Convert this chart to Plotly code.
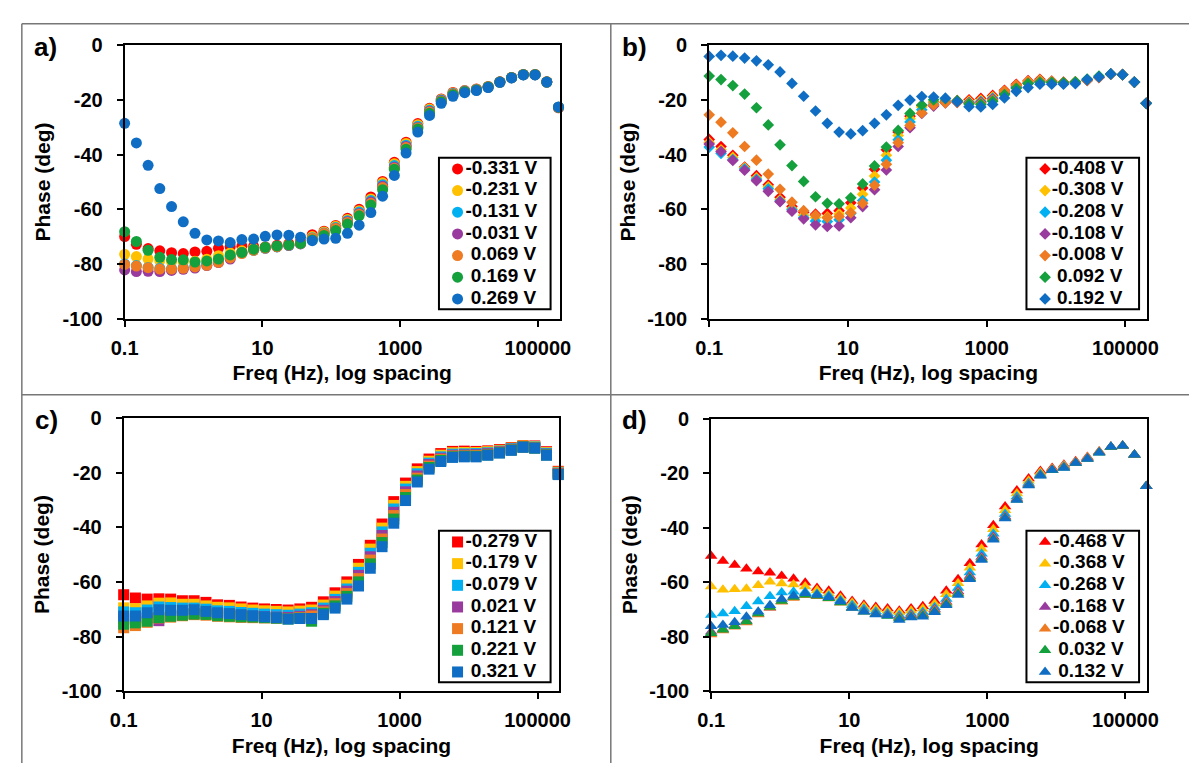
import plotly.graph_objects as go

# ---------------- data ----------------
FREQ_HZ = [0.1, 0.148, 0.219, 0.324, 0.480, 0.710, 1.05, 1.56, 2.30, 3.41,
           5.04, 7.46, 11.0, 16.3, 24.2, 35.8, 53.0, 78.5, 116, 172,
           254, 376, 557, 824, 1220, 1805, 2672, 3955, 5853, 8663,
           12822, 18978, 28088, 41572, 61530, 91069, 134790, 199500]

X_TICK_VALUES = [0.1, 10, 1000, 100000]
X_TICK_LABELS = ["0.1", "10", "1000", "100000"]
Y_TICK_VALUES = [0, -20, -40, -60, -80, -100]
Y_TICK_LABELS = ["0", "-20", "-40", "-60", "-80", "-100"]

# panel a (circles)
A_LABELS = ["-0.331 V", "-0.231 V", "-0.131 V", "-0.031 V", "\u00a00.069 V", "\u00a00.169 V", "\u00a00.269 V"]
A_M0331 = [-70.0, -72.8, -74.4, -75.2, -75.9, -76.2, -75.6, -75.4, -74.3, -73.7,
           -73.5, -73.6, -73.8, -73.2, -72.6, -71.8, -69.3, -68.0, -65.9, -63.3,
           -60.0, -55.5, -49.8, -42.8, -35.4, -28.6, -23.0, -19.6, -17.2, -16.5,
           -15.9, -15.0, -13.3, -11.7, -10.6, -10.6, -13.3, -22.8]
A_M0231 = [-76.5, -77.3, -78.2, -78.8, -79.2, -79.3, -79.0, -78.3, -77.0, -76.0,
           -75.2, -74.4, -74.0, -73.6, -73.1, -72.4, -70.0, -68.3, -66.2, -63.7,
           -60.5, -56.2, -50.3, -43.3, -35.9, -29.0, -23.3, -19.8, -17.4, -16.6,
           -16.0, -15.1, -13.4, -11.8, -10.6, -10.6, -13.3, -22.6]
A_M0131 = [-80.0, -80.6, -81.3, -81.6, -81.7, -81.4, -80.6, -79.8, -78.6, -77.2,
           -76.0, -75.0, -74.3, -73.8, -73.3, -72.6, -70.4, -68.7, -66.7, -64.2,
           -61.0, -56.8, -51.0, -44.0, -36.5, -29.6, -23.7, -20.0, -17.6, -16.7,
           -16.1, -15.2, -13.4, -11.8, -10.7, -10.7, -13.4, -22.7]
A_M0031 = [-82.2, -82.8, -82.7, -82.8, -82.4, -82.0, -81.5, -80.6, -79.5, -78.2,
           -75.8, -74.8, -74.2, -73.7, -73.2, -72.7, -70.8, -69.0, -67.0, -64.6,
           -61.5, -57.3, -51.6, -44.6, -37.0, -30.0, -24.1, -20.2, -17.8, -16.8,
           -16.2, -15.2, -13.4, -11.8, -10.7, -10.7, -13.4, -22.7]
A_P0069 = [-80.2, -80.8, -81.4, -81.9, -81.9, -81.6, -81.1, -80.5, -79.4, -77.8,
           -76.2, -75.0, -74.2, -73.7, -73.1, -72.5, -70.6, -68.9, -67.0, -64.8,
           -61.8, -57.8, -52.0, -45.0, -37.4, -30.2, -24.4, -20.4, -17.9, -16.9,
           -16.2, -15.2, -13.4, -11.8, -10.7, -10.7, -13.4, -22.7]
A_P0169 = [-68.2, -71.8, -75.0, -77.6, -78.4, -78.5, -79.3, -78.9, -78.2, -76.7,
           -75.8, -74.6, -73.9, -73.4, -73.0, -72.5, -71.2, -69.6, -67.8, -65.4,
           -62.4, -58.4, -52.8, -45.3, -38.0, -30.6, -24.8, -20.6, -18.0, -16.9,
           -16.3, -15.2, -13.4, -11.8, -10.7, -10.7, -13.4, -22.6]
A_P0269 = [-28.5, -35.7, -43.9, -52.4, -59.0, -64.6, -68.8, -71.2, -71.6, -72.2,
           -71.1, -70.9, -69.9, -69.4, -69.5, -70.2, -71.5, -70.9, -70.6, -68.8,
           -65.8, -61.2, -55.2, -47.6, -39.4, -31.7, -25.6, -21.2, -18.6, -17.3,
           -16.5, -15.4, -13.5, -11.9, -10.8, -10.8, -13.4, -22.5]

# panel b (diamonds)
B_LABELS = ["-0.408 V", "-0.308 V", "-0.208 V", "-0.108 V", "-0.008 V", "\u00a00.092 V", "\u00a00.192 V"]
B_M0408 = [-34.4, -37.0, -40.2, -44.5, -47.7, -51.0, -55.6, -59.0, -61.1, -61.8,
           -61.5, -60.5, -57.6, -52.2, -45.3, -38.2, -31.7, -25.9, -22.0, -20.8,
           -20.4, -20.2, -19.9, -19.4, -18.3, -16.4, -14.2, -12.9, -12.4, -13.0,
           -13.4, -13.3, -12.7, -11.7, -10.5, -10.7, -13.4, -21.2]
B_M0308 = [-35.5, -38.2, -41.0, -44.8, -48.5, -51.8, -56.5, -59.8, -62.2, -63.0,
           -62.8, -61.7, -59.5, -54.5, -47.8, -40.2, -33.0, -26.8, -22.5, -21.0,
           -20.6, -20.5, -20.4, -20.0, -18.8, -16.8, -14.6, -13.2, -12.7, -13.2,
           -13.6, -13.4, -12.8, -11.7, -10.5, -10.7, -13.4, -21.2]
B_M0208 = [-37.2, -39.5, -41.8, -45.2, -49.0, -52.5, -57.0, -60.2, -63.0, -64.3,
           -64.5, -63.8, -61.5, -56.8, -50.0, -42.0, -34.5, -28.0, -23.5, -21.5,
           -20.8, -20.7, -20.8, -20.5, -19.3, -17.2, -15.0, -13.6, -13.0, -13.5,
           -13.8, -13.5, -12.8, -11.7, -10.5, -10.7, -13.4, -21.2]
B_M0108 = [-36.1, -38.8, -42.1, -45.7, -49.5, -53.4, -57.2, -60.7, -63.5, -65.7,
           -66.3, -66.1, -63.1, -59.0, -52.8, -45.6, -37.0, -30.1, -24.9, -22.2,
           -21.0, -20.8, -21.0, -20.8, -19.6, -17.6, -15.4, -13.9, -13.3, -13.6,
           -13.9, -13.6, -12.8, -11.7, -10.5, -10.7, -13.4, -21.2]
B_M0008 = [-25.4, -28.1, -32.0, -37.0, -42.0, -47.1, -52.7, -57.4, -60.5, -62.2,
           -63.1, -62.6, -61.3, -57.8, -51.2, -43.5, -35.6, -29.3, -24.7, -21.8,
           -21.0, -20.8, -21.2, -21.2, -20.0, -17.0, -14.6, -13.4, -13.0, -13.4,
           -13.8, -13.6, -12.8, -11.7, -10.5, -10.7, -13.4, -21.2]
B_P0092 = [-11.2, -12.5, -14.7, -17.8, -22.8, -29.1, -36.4, -44.0, -49.8, -55.4,
           -57.8, -58.0, -55.8, -50.7, -44.1, -37.2, -31.1, -24.9, -21.8, -19.9,
           -19.5, -20.2, -21.4, -21.6, -20.4, -18.0, -15.7, -13.9, -13.5, -13.5,
           -13.6, -13.3, -12.3, -11.2, -10.4, -10.7, -13.4, -21.2]
B_P0192 = [-4.0, -3.6, -3.9, -4.6, -5.6, -7.1, -9.7, -13.9, -18.6, -24.0,
           -28.5, -31.7, -32.4, -31.2, -28.5, -25.4, -21.9, -20.0, -18.7, -18.9,
           -19.3, -20.6, -22.4, -22.5, -21.6, -19.2, -16.8, -15.4, -14.2, -14.2,
           -14.2, -14.0, -12.5, -11.5, -10.4, -10.7, -13.4, -21.2]

# panel c (squares)
C_LABELS = ["-0.279 V", "-0.179 V", "-0.079 V", "\u00a00.021 V", "\u00a00.121 V", "\u00a00.221 V", "\u00a00.321 V"]
C_M0279 = [-64.7, -65.9, -66.3, -66.2, -66.3, -66.9, -66.9, -67.5, -68.4, -68.6,
           -69.2, -69.6, -69.9, -70.1, -70.3, -69.9, -69.3, -67.3, -64.0, -60.0,
           -53.6, -46.6, -38.8, -30.6, -23.8, -18.6, -15.0, -13.0, -12.2, -12.1,
           -12.2, -12.0, -11.5, -10.8, -10.1, -10.2, -12.3, -19.5]
C_M0179 = [-69.5, -69.8, -68.8, -67.8, -67.7, -68.2, -68.2, -68.8, -69.3, -69.5,
           -69.9, -70.3, -70.6, -70.8, -71.0, -70.7, -70.3, -68.5, -65.2, -61.2,
           -55.0, -48.0, -40.3, -32.0, -25.0, -19.6, -15.8, -13.6, -12.7, -12.6,
           -12.6, -12.3, -11.8, -11.0, -10.2, -10.4, -12.6, -19.8]
C_M0079 = [-71.0, -71.3, -70.3, -69.2, -69.4, -69.6, -69.6, -70.0, -70.6, -70.8,
           -71.2, -71.5, -71.8, -72.0, -72.2, -71.8, -71.3, -69.6, -66.4, -62.6,
           -56.5, -49.5, -41.7, -33.3, -26.0, -20.4, -16.5, -14.2, -13.2, -13.1,
           -13.0, -12.7, -12.1, -11.2, -10.4, -10.6, -12.9, -20.1]
C_P0021 = [-73.5, -73.8, -73.2, -74.2, -72.4, -72.0, -71.6, -71.5, -71.8, -72.0,
           -72.4, -72.6, -72.8, -72.9, -73.0, -72.6, -72.0, -70.4, -67.2, -63.4,
           -57.6, -50.8, -43.0, -34.5, -27.0, -21.2, -17.0, -14.7, -13.6, -13.5,
           -13.4, -13.0, -12.3, -11.4, -10.5, -10.8, -13.2, -20.3]
C_P0121 = [-76.8, -76.0, -74.8, -73.2, -72.9, -72.4, -72.0, -72.2, -72.6, -72.8,
           -73.0, -73.1, -73.2, -73.3, -73.4, -73.0, -72.5, -71.0, -68.0, -64.3,
           -58.8, -52.0, -44.3, -35.7, -28.0, -22.0, -17.6, -15.1, -13.9, -13.8,
           -13.7, -13.3, -12.5, -11.6, -10.6, -10.9, -13.4, -20.5]
C_P0221 = [-75.5, -75.0, -74.4, -73.1, -72.6, -72.2, -71.8, -71.9, -72.4, -72.6,
           -72.8, -72.9, -73.1, -73.3, -73.6, -73.3, -74.4, -71.5, -68.8, -65.3,
           -60.0, -53.4, -45.6, -37.0, -29.1, -22.7, -18.1, -15.5, -14.2, -14.0,
           -14.0, -13.5, -12.7, -11.7, -10.6, -11.0, -13.5, -20.6]
C_P0321 = [-72.5, -72.5, -71.3, -70.2, -70.4, -70.4, -70.2, -70.8, -71.3, -71.6,
           -72.0, -72.4, -72.8, -73.1, -73.6, -73.4, -73.4, -72.0, -69.6, -66.3,
           -61.5, -55.0, -47.1, -38.5, -30.2, -23.4, -18.7, -15.9, -14.4, -14.2,
           -14.2, -13.6, -12.8, -11.8, -10.7, -11.0, -13.6, -20.7]

# panel d (triangles)
D_LABELS = ["-0.468 V", "-0.368 V", "-0.268 V", "-0.168 V", "-0.068 V", "\u00a00.032 V", "\u00a00.132 V"]
D_M0468 = [-50.4, -52.3, -53.7, -55.1, -56.1, -56.6, -57.8, -58.8, -60.2, -62.2,
           -63.2, -65.0, -66.9, -68.3, -69.1, -69.7, -70.5, -69.7, -68.9, -66.9,
           -63.2, -59.0, -53.1, -46.2, -39.1, -32.3, -26.4, -22.0, -19.2, -18.1,
           -16.9, -15.7, -14.1, -12.1, -10.3, -10.0, -13.3, -24.8]
D_M0368 = [-61.6, -62.8, -62.6, -62.4, -61.2, -59.9, -60.5, -60.9, -61.6, -63.0,
           -64.2, -65.8, -67.6, -69.0, -69.9, -70.5, -71.2, -70.5, -69.8, -67.9,
           -64.5, -60.4, -54.7, -47.8, -40.6, -33.6, -27.5, -22.8, -19.8, -18.5,
           -17.2, -15.9, -14.3, -12.2, -10.4, -10.0, -13.3, -24.8]
D_M0268 = [-72.1, -71.5, -70.7, -68.9, -67.1, -65.2, -63.8, -63.5, -63.6, -64.3,
           -65.0, -66.7, -68.4, -69.8, -70.8, -71.4, -72.2, -71.6, -71.0, -69.2,
           -66.2, -62.2, -56.5, -49.6, -42.3, -35.0, -28.6, -23.6, -20.3, -18.8,
           -17.5, -16.1, -14.5, -12.3, -10.4, -10.0, -13.3, -24.8]
D_M0168 = [-78.2, -77.2, -75.8, -74.2, -71.6, -69.4, -67.0, -65.6, -64.6, -65.0,
           -65.8, -67.4, -69.2, -70.6, -71.5, -72.0, -72.8, -72.2, -71.7, -70.0,
           -67.2, -63.4, -57.8, -50.8, -43.4, -35.9, -29.3, -24.1, -20.7, -19.0,
           -17.8, -16.2, -14.6, -12.4, -10.4, -10.0, -13.3, -24.8]
D_M0068 = [-79.2, -77.8, -76.4, -74.8, -71.9, -69.4, -67.2, -65.8, -64.8, -65.2,
           -66.0, -67.6, -69.4, -70.8, -71.7, -72.2, -73.1, -72.5, -72.0, -70.4,
           -67.6, -63.9, -58.3, -51.3, -43.9, -36.3, -29.6, -24.3, -20.8, -19.0,
           -17.9, -16.2, -14.7, -12.4, -10.4, -10.0, -13.3, -24.8]
D_P0032 = [-78.8, -77.5, -76.2, -74.5, -71.5, -69.1, -66.9, -65.5, -64.6, -65.0,
           -65.9, -67.5, -69.4, -70.9, -71.8, -72.4, -73.4, -72.8, -72.3, -70.8,
           -68.0, -64.3, -58.6, -51.6, -44.2, -36.5, -29.8, -24.5, -20.9, -19.0,
           -18.0, -16.3, -14.8, -12.5, -10.4, -10.0, -13.3, -24.8]
D_P0132 = [-76.2, -75.7, -74.7, -72.7, -70.9, -68.5, -66.2, -65.0, -64.1, -64.7,
           -65.6, -67.1, -69.5, -70.9, -71.9, -72.3, -73.9, -73.0, -72.7, -71.1,
           -68.5, -64.7, -59.0, -51.9, -44.5, -36.7, -29.9, -24.6, -21.0, -18.9,
           -18.1, -16.3, -14.8, -12.5, -10.3, -10.0, -13.3, -24.8]

# ---------------- style ----------------
W, H = 1200, 774
FONT = "Liberation Sans, Arial, sans-serif"
COLORS = ["#FF0000", "#FFC000", "#00B0F0", "#993A9E", "#EE7A22", "#14A03C", "#0F6EC4"]

panels = [
    dict(label="a)", names=A_LABELS,
         series=[A_M0331, A_M0231, A_M0131, A_M0031, A_P0069, A_P0169, A_P0269],
         symbol="circle", size=11, box=(113, 557.3, 35.5, 316.5),
         legbox=(434, 548, 151, 307), tag=(32, 37)),
    dict(label="b)", names=B_LABELS,
         series=[B_M0408, B_M0308, B_M0208, B_M0108, B_M0008, B_P0092, B_P0192],
         symbol="diamond", size=9, box=(710, 1157.5, 35.5, 316.5),
         legbox=(1034, 1149, 151, 307), tag=(634, 37)),
    dict(label="c)", names=C_LABELS,
         series=[C_M0279, C_M0179, C_M0079, C_P0021, C_P0121, C_P0221, C_P0321],
         symbol="square", size=11, box=(112, 557, 419, 700),
         legbox=(434, 548, 535, 691), tag=(33, 421)),
    dict(label="d)", names=D_LABELS,
         series=[D_M0468, D_M0368, D_M0268, D_M0168, D_M0068, D_P0032, D_P0132],
         symbol="triangle-up", size=11, box=(712, 1157.5, 419.5, 700),
         legbox=(1034, 1149, 535, 691), tag=(634, 421)),
]

LEG_MARKER_X = 19      # px from legend box left edge
LEG_FIRST_ROW = 11.5   # px from legend box top
LEG_ROW_STEP = 22.3    # px between legend rows


def px_x(v):
    return v / W


def px_y(v):
    return 1 - v / H


fig = go.Figure()
layout = dict(
    width=W, height=H,
    margin=dict(l=0, r=0, t=0, b=0),
    paper_bgcolor="white", plot_bgcolor="rgba(0,0,0,0)",
    font=dict(family=FONT, color="black", size=20, weight="bold"),
    showlegend=False,
    shapes=[], annotations=[],
)

for n, p in enumerate(panels, start=1):
    suffix = "" if n == 1 else str(n)
    xa, ya = "x" + suffix, "y" + suffix
    x0, x1, y0, y1 = p["box"]
    for name, ys, col in zip(p["names"], p["series"], COLORS):
        fig.add_trace(go.Scatter(
            x=FREQ_HZ, y=ys, name=name, mode="markers",
            marker=dict(symbol=p["symbol"], size=p["size"], color=col,
                        line=dict(width=0)),
            xaxis=xa, yaxis=ya, cliponaxis=False, showlegend=False,
        ))
    layout["xaxis" + suffix] = dict(
        domain=[px_x(x0), px_x(x1)], anchor=ya, type="log",
        range=[-1, 5.317],
        tickmode="array", tickvals=X_TICK_VALUES, ticktext=X_TICK_LABELS,
        ticks="outside", ticklen=6, tickwidth=1.5, tickcolor="black",
        showline=True, linecolor="black", linewidth=2, mirror=True,
        showgrid=False, zeroline=False,
        tickfont=dict(size=20, family=FONT, weight="bold"),
        ticklabelstandoff=4,
        title=dict(text="Freq (Hz), log spacing", standoff=8,
                   font=dict(size=21, family=FONT, weight="bold")),
    )
    layout["yaxis" + suffix] = dict(
        domain=[px_y(y1), px_y(y0)], anchor=xa,
        range=[-100, 0],
        tickmode="array", tickvals=Y_TICK_VALUES, ticktext=Y_TICK_LABELS,
        ticks="outside", ticklen=6, tickwidth=1.5, tickcolor="black",
        showline=True, linecolor="black", linewidth=2, mirror=True,
        showgrid=False, zeroline=False,
        tickfont=dict(size=20, family=FONT, weight="bold"),
        ticklabelstandoff=10,
        title=dict(text="Phase (deg)", standoff=6,
                   font=dict(size=21, family=FONT, weight="bold")),
    )

    # legend box drawn in its own pixel-unit subplot
    lx0, lx1, ly0, ly1 = p["legbox"]
    lsuf = str(n + 4)
    layout["xaxis" + lsuf] = dict(domain=[px_x(lx0), px_x(lx1)], anchor="y" + lsuf,
                                  range=[0, lx1 - lx0], visible=False, fixedrange=True)
    layout["yaxis" + lsuf] = dict(domain=[px_y(ly1), px_y(ly0)], anchor="x" + lsuf,
                                  range=[ly1 - ly0, 0], visible=False, fixedrange=True)
    rows = [LEG_FIRST_ROW + LEG_ROW_STEP * i for i in range(len(p["names"]))]
    fig.add_trace(go.Scatter(
        x=[LEG_MARKER_X] * len(rows), y=rows, mode="markers+text",
        text=p["names"], textposition="middle right",
        textfont=dict(size=19, family=FONT, color="black", weight="bold"),
        marker=dict(symbol=p["symbol"], size=p["size"], color=COLORS, line=dict(width=0)),
        xaxis="x" + lsuf, yaxis="y" + lsuf, cliponaxis=False,
        showlegend=False, hoverinfo="skip",
    ))
    layout["shapes"].append(dict(
        type="rect", xref="paper", yref="paper",
        x0=px_x(lx0), x1=px_x(lx1), y0=px_y(ly1), y1=px_y(ly0),
        line=dict(color="black", width=2), fillcolor="rgba(0,0,0,0)", layer="above",
    ))

    tx, ty = p["tag"]
    layout["annotations"].append(dict(
        text=p["label"], x=px_x(tx), y=px_y(ty), xref="paper", yref="paper",
        xanchor="center", yanchor="middle", showarrow=False,
        font=dict(size=26, family=FONT, color="black", weight="bold"),
    ))

# table grid lines around the four panels
GRID = "#777777"
for (ax0, ay0, ax1, ay1) in [(8, 13, W, 13), (8, 13, 8, H), (609.5, 13, 609.5, H), (8, 395, W, 395)]:
    layout["shapes"].append(dict(
        type="line", xref="paper", yref="paper",
        x0=px_x(ax0), y0=px_y(ay0), x1=px_x(ax1), y1=px_y(ay1),
        line=dict(color=GRID, width=1.5),
    ))

fig.update_layout(**layout)
fig.write_html("out.html")
